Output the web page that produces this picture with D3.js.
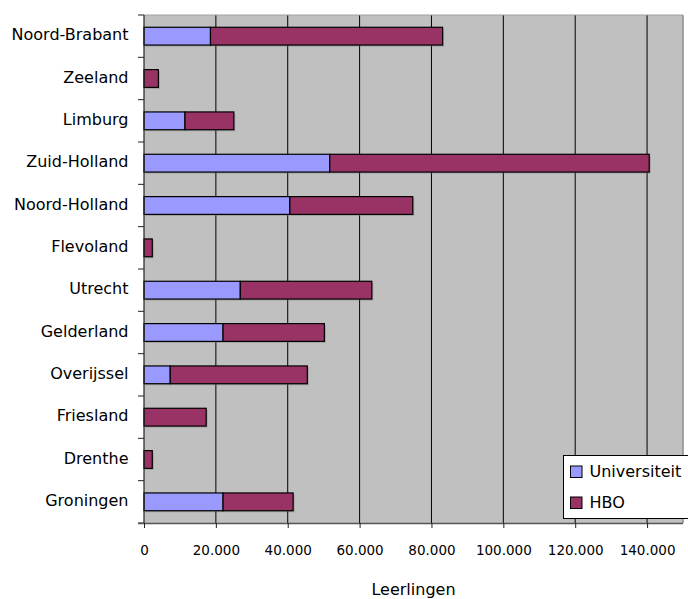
<!DOCTYPE html>
<html>
<head>
<meta charset="utf-8">
<script src="https://cdn.jsdelivr.net/npm/d3@7"></script>
<style>
  html, body { margin: 0; padding: 0; background: #fff; }
  svg { display: block; font-family: "DejaVu Sans", sans-serif; }
</style>
</head>
<body>
<svg id="chart" width="688" height="599"></svg>
<script>
// Provinces, top to bottom as listed on the axis
const provinces = ["Noord-Brabant", "Zeeland", "Limburg", "Zuid-Holland", "Noord-Holland",
  "Flevoland", "Utrecht", "Gelderland", "Overijssel", "Friesland", "Drenthe", "Groningen"];
// Students per province
const universiteit = [18500, 0, 11400, 51700, 40600, 0, 26800, 22000, 7300, 0, 0, 22000];
const hbo = [64600, 4000, 13600, 88900, 34200, 2300, 36600, 28200, 38150, 17300, 2300, 19500];
const seriesNames = ["Universiteit", "HBO"];
const seriesColors = ["#9999FF", "#993366"];
const xTicks = [0, 20000, 40000, 60000, 80000, 100000, 120000, 140000];
const xTitle = "Leerlingen";

const svg = d3.select("#chart");
const plot = { left: 144, right: 683, top: 15, bottom: 523 };

const x = d3.scaleLinear().domain([0, 150000]).range([plot.left, plot.right]);
const y = d3.scaleBand().domain(provinces).range([plot.top, plot.bottom])
  .paddingInner(0.58).paddingOuter(0.29);

const fmt = v => d3.format(",")(v).replace(/,/g, ".");

// Plot background
svg.append("rect")
  .attr("x", plot.left).attr("y", plot.top)
  .attr("width", plot.right - plot.left).attr("height", plot.bottom - plot.top)
  .attr("fill", "#C0C0C0");

// Vertical gridlines
svg.append("g").selectAll("line")
  .data(xTicks.filter(v => v > 0))
  .join("line")
  .attr("x1", d => x(d)).attr("x2", d => x(d))
  .attr("y1", plot.top).attr("y2", plot.bottom)
  .attr("stroke", "#000").attr("stroke-width", 1);

// Top / right frame of the plot area
svg.append("line").attr("x1", plot.left).attr("x2", plot.right)
  .attr("y1", plot.top).attr("y2", plot.top).attr("stroke", "#A0A0A0");
svg.append("line").attr("x1", plot.right).attr("x2", plot.right)
  .attr("y1", plot.top).attr("y2", plot.bottom).attr("stroke", "#8C8C8C").attr("stroke-width", 1.5);

// Stack the two series
const rows = provinces.map((p, i) => ({ province: p, Universiteit: universiteit[i], HBO: hbo[i] }));
const stacked = d3.stack().keys(seriesNames)(rows);

const bars = svg.append("g");
stacked.forEach((layer, si) => {
  const g = bars.append("g");
  const data = layer.filter(d => d[1] - d[0] > 0);
  // soft drop shadow
  g.selectAll("rect.shadow").data(data).join("rect")
    .attr("class", "shadow")
    .attr("x", d => x(d[0]) + 1.5)
    .attr("y", d => y(d.data.province) + 1.5)
    .attr("width", d => x(d[1]) - x(d[0]))
    .attr("height", y.bandwidth())
    .attr("fill", "#7a7a7a").attr("opacity", 0.45);
});
stacked.forEach((layer, si) => {
  const data = layer.filter(d => d[1] - d[0] > 0);
  bars.append("g").selectAll("rect").data(data).join("rect")
    .attr("x", d => x(d[0]))
    .attr("y", d => y(d.data.province))
    .attr("width", d => x(d[1]) - x(d[0]))
    .attr("height", y.bandwidth())
    .attr("fill", seriesColors[si])
    .attr("stroke", "#000").attr("stroke-width", 1.2);
});

// Y axis: line, ticks between categories, labels
const gap = (y.step() - y.bandwidth()) / 2;
const boundaries = provinces.map(p => y(p) - gap).concat([plot.bottom]);
svg.append("line").attr("x1", plot.left).attr("x2", plot.left)
  .attr("y1", plot.top).attr("y2", plot.bottom).attr("stroke", "#222").attr("stroke-width", 1.2);
svg.append("g").selectAll("line").data(boundaries).join("line")
  .attr("x1", plot.left - 6).attr("x2", plot.left)
  .attr("y1", d => d).attr("y2", d => d)
  .attr("stroke", "#222");
svg.append("g").selectAll("text").data(provinces).join("text")
  .attr("x", plot.left - 15.5)
  .attr("y", d => y(d) + y.bandwidth() / 2 + 4)
  .attr("text-anchor", "end")
  .attr("font-size", 16)
  .attr("fill", "#000")
  .text(d => d);

// X axis
const xAxis = svg.append("g")
  .attr("transform", `translate(0,${plot.bottom})`)
  .call(d3.axisBottom(x).tickValues(xTicks).tickFormat(fmt).tickSize(5).tickPadding(17));
xAxis.select(".domain").attr("stroke", "#555").attr("stroke-width", 1.5)
  .attr("d", `M${plot.left - 6},0.5H${plot.right}`);
xAxis.selectAll(".tick line").attr("stroke", "#222");
xAxis.selectAll(".tick text")
  .attr("font-size", 13.5).attr("font-family", "DejaVu Sans, sans-serif").attr("fill", "#000");

svg.append("text")
  .attr("x", (plot.left + plot.right) / 2).attr("y", 595)
  .attr("text-anchor", "middle").attr("font-size", 16).attr("fill", "#000")
  .text(xTitle);

// Legend
const legend = svg.append("g").attr("transform", "translate(563.5,455.5)");
legend.append("rect").attr("width", 130).attr("height", 63)
  .attr("fill", "#fff").attr("stroke", "#000");
seriesNames.forEach((name, i) => {
  const row = legend.append("g").attr("transform", `translate(7,${10.5 + i * 31})`);
  row.append("rect").attr("width", 11.5).attr("height", 11.5)
    .attr("fill", seriesColors[i]).attr("stroke", "#000");
  row.append("text").attr("x", 19).attr("y", 11)
    .attr("font-size", 16).attr("fill", "#000").text(name);
});
</script>
</body>
</html>
